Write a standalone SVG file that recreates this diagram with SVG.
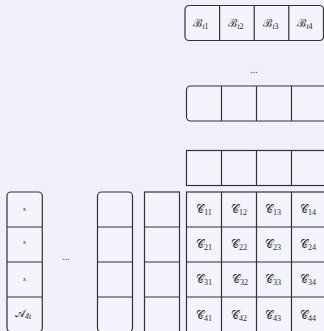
<svg xmlns="http://www.w3.org/2000/svg" width="324" height="331" viewBox="0 0 324 331">
<style>
.bg{fill:#f0f0fb}
.box{fill:#f4f4fc;stroke:#333;stroke-width:1.2}
.ln{stroke:#333;stroke-width:1.2;fill:none}
.t{font-family:"DejaVu Serif","Liberation Serif",serif;font-size:11px;fill:#2a2a2a;text-anchor:middle}
.s{font-family:"Liberation Serif",serif;font-size:8px}
.i{font-style:italic}
.x{font-family:"Liberation Serif",serif;font-size:6px;fill:#333;text-anchor:middle}
.d{font-family:"Liberation Serif",serif;font-size:10px;fill:#444;text-anchor:middle}
</style>
<rect class="bg" x="0" y="0" width="324" height="331"/>
<g id="rowB">
<rect class="box" x="185" y="5.5" width="138.5" height="35" rx="4"/>
<path class="ln" d="M219.6 5.5V40.5M254.2 5.5V40.5M288.8 5.5V40.5"/>
<text class="t" x="201" y="27">ℬ<tspan class="s i" dy="2">t</tspan><tspan class="s">1</tspan></text>
<text class="t" x="236" y="27">ℬ<tspan class="s i" dy="2">t</tspan><tspan class="s">2</tspan></text>
<text class="t" x="271" y="27">ℬ<tspan class="s i" dy="2">t</tspan><tspan class="s">3</tspan></text>
<text class="t" x="305" y="27">ℬ<tspan class="s i" dy="2">t</tspan><tspan class="s">4</tspan></text>
</g>
<text class="d" x="254" y="73">...</text>
<g id="rowR">
<rect class="box" x="186.5" y="86" width="145" height="35" rx="4"/>
<path class="ln" d="M221.5 86V121M256.5 86V121M291.5 86V121"/>
</g>
<g id="rowS">
<rect class="box" x="186.5" y="150.5" width="145" height="35"/>
<path class="ln" d="M221.5 150.5V185.5M256.5 150.5V185.5M291.5 150.5V185.5"/>
</g>
<g id="gridC">
<rect class="box" x="186.5" y="192" width="145" height="145"/>
<path class="ln" d="M221.5 192V337M256.5 192V337M291.5 192V337M186.5 227H331.5M186.5 262H331.5M186.5 297H331.5"/>
<text class="t" x="204" y="213">𝒞<tspan class="s" dy="2">11</tspan></text>
<text class="t" x="239" y="213">𝒞<tspan class="s" dy="2">12</tspan></text>
<text class="t" x="273" y="213">𝒞<tspan class="s" dy="2">13</tspan></text>
<text class="t" x="308" y="213">𝒞<tspan class="s" dy="2">14</tspan></text>
<text class="t" x="204" y="248">𝒞<tspan class="s" dy="2">21</tspan></text>
<text class="t" x="239" y="248">𝒞<tspan class="s" dy="2">22</tspan></text>
<text class="t" x="273" y="248">𝒞<tspan class="s" dy="2">23</tspan></text>
<text class="t" x="308" y="248">𝒞<tspan class="s" dy="2">24</tspan></text>
<text class="t" x="204" y="283">𝒞<tspan class="s" dy="2">31</tspan></text>
<text class="t" x="240" y="283">𝒞<tspan class="s" dy="2">32</tspan></text>
<text class="t" x="273" y="283">𝒞<tspan class="s" dy="2">33</tspan></text>
<text class="t" x="308" y="283">𝒞<tspan class="s" dy="2">34</tspan></text>
<text class="t" x="204" y="319">𝒞<tspan class="s" dy="2">41</tspan></text>
<text class="t" x="239" y="319">𝒞<tspan class="s" dy="2">42</tspan></text>
<text class="t" x="273" y="319">𝒞<tspan class="s" dy="2">43</tspan></text>
<text class="t" x="308" y="319">𝒞<tspan class="s" dy="2">44</tspan></text>
</g>
<g id="colA">
<rect class="box" x="7" y="192" width="35.3" height="140" rx="4"/>
<path class="ln" d="M7 227H42.3M7 262H42.3M7 297H42.3"/>
<text class="x" x="24.5" y="211">x</text>
<text class="x" x="24.5" y="244">x</text>
<text class="x" x="24.5" y="281">x</text>
<text class="t" x="23" y="317">𝒜<tspan class="s i" dy="2">4t</tspan></text>
</g>
<text class="d" x="66" y="260">...</text>
<g id="colR">
<rect class="box" x="97.5" y="192" width="35" height="140" rx="4"/>
<path class="ln" d="M97.5 227H132.5M97.5 262H132.5M97.5 297H132.5"/>
</g>
<g id="colS">
<rect class="box" x="144.5" y="192" width="35" height="145"/>
<path class="ln" d="M144.5 227H179.5M144.5 262H179.5M144.5 297H179.5"/>
</g>
<g id="connectors"/>
</svg>
